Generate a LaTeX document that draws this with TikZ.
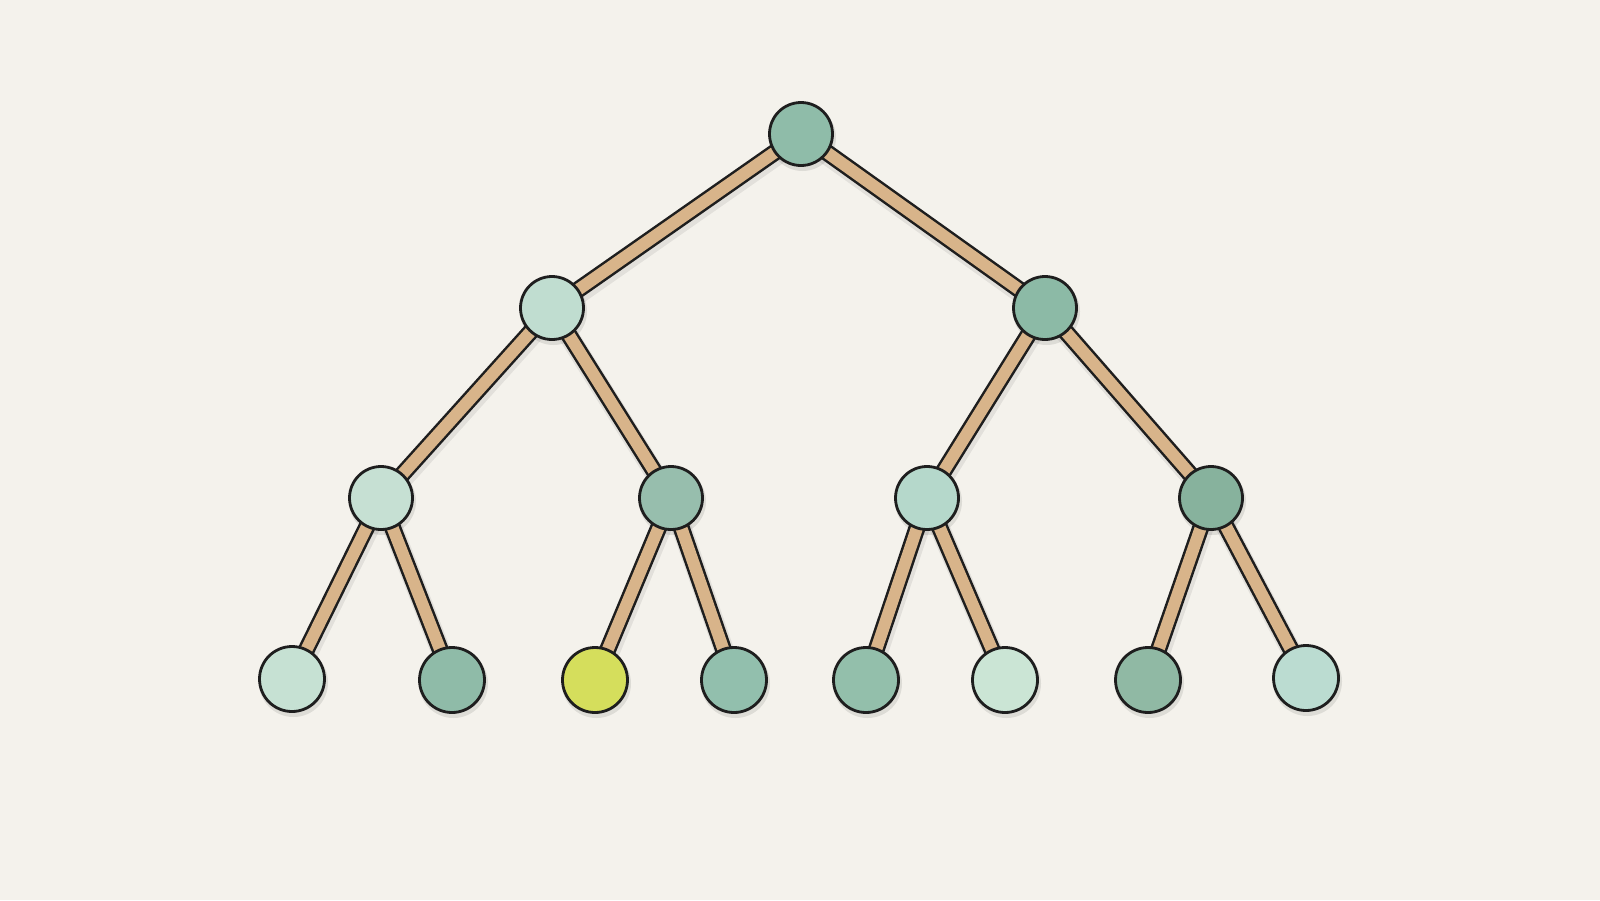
\documentclass[tikz,border=0pt]{standalone}
\pgfdeclarelayer{paperlayer}
\pgfdeclarelayer{background}
\pgfsetlayers{paperlayer,background,main}
\definecolor{paper}{HTML}{F4F2EC}
\definecolor{stick}{HTML}{D8B48A}
\definecolor{outl}{HTML}{1E1E1E}
\definecolor{cA}{HTML}{8FBCA9}
\definecolor{cB}{HTML}{C0DDD0}
\definecolor{cC}{HTML}{8CBAA6}
\definecolor{cD}{HTML}{C6E0D3}
\definecolor{cE}{HTML}{97BEAD}
\definecolor{cF}{HTML}{B5D8CB}
\definecolor{cG}{HTML}{87B29D}
\definecolor{cH}{HTML}{C6E1D3}
\definecolor{cI}{HTML}{8FBBA8}
\definecolor{cJ}{HTML}{D5DE5C}
\definecolor{cK}{HTML}{92BFAD}
\definecolor{cL}{HTML}{93BFAB}
\definecolor{cM}{HTML}{CBE5D5}
\definecolor{cN}{HTML}{90B9A4}
\definecolor{cO}{HTML}{BBDCD1}
\tikzset{
  treenode/.style={circle, draw=outl, line width=2.8pt, inner sep=0pt, minimum size=63pt},
  leafnode/.style={treenode, minimum size=65pt},
  branchouter/.style={draw=outl, line width=17pt, line cap=butt},
  branchinner/.style={draw=stick, line width=12pt, line cap=butt},
  branchshadow/.style={draw=black, opacity=0.07, line width=20pt},
  nodeshadow/.style={fill=black, opacity=0.09}
}
\begin{document}
\begin{tikzpicture}[x=1pt,y=-1pt]
\begin{pgfonlayer}{paperlayer}
\fill[paper] (0,0) rectangle (1600,900);
\end{pgfonlayer}
\useasboundingbox (0,0) rectangle (1600,900);

\node[treenode, fill=cA] (r) at (801,134) {};
\node[treenode, fill=cB] (a) at (552,308) {};
\node[treenode, fill=cC] (b) at (1045,308) {};
\node[treenode, fill=cD] (aa) at (381,498) {};
\node[treenode, fill=cE] (ab) at (671,498) {};
\node[treenode, fill=cF] (ba) at (927,498) {};
\node[treenode, fill=cG] (bb) at (1211,498) {};
\node[leafnode, fill=cH] (l1) at (292,679) {};
\node[leafnode, fill=cI] (l2) at (452,680) {};
\node[leafnode, fill=cJ] (l3) at (595,680) {};
\node[leafnode, fill=cK] (l4) at (734,680) {};
\node[leafnode, fill=cL] (l5) at (866,680) {};
\node[leafnode, fill=cM] (l6) at (1005,680) {};
\node[leafnode, fill=cN] (l7) at (1148,680) {};
\node[leafnode, fill=cO] (l8) at (1306,678) {};

\begin{pgfonlayer}{background}
\foreach \p/\c in {r/a,r/b,a/aa,a/ab,b/ba,b/bb,aa/l1,aa/l2,ab/l3,ab/l4,ba/l5,ba/l6,bb/l7,bb/l8}{
  \draw[branchshadow] ([shift={(1.5pt,-3.5pt)}]\p.center) -- ([shift={(1.5pt,-3.5pt)}]\c.center);
}
\foreach \n in {r,a,b,aa,ab,ba,bb}{
  \fill[nodeshadow] ([shift={(1.5pt,-3.5pt)}]\n.center) circle (33.5pt);
}
\foreach \n in {l1,l2,l3,l4,l5,l6,l7,l8}{
  \fill[nodeshadow] ([shift={(1.5pt,-3.5pt)}]\n.center) circle (34.5pt);
}
\foreach \p/\c in {r/a,r/b,a/aa,a/ab,b/ba,b/bb,aa/l1,aa/l2,ab/l3,ab/l4,ba/l5,ba/l6,bb/l7,bb/l8}{
  \draw[branchouter] (\p.center) -- (\c.center);
  \draw[branchinner] (\p.center) -- (\c.center);
}
\end{pgfonlayer}
\end{tikzpicture}
\end{document}
